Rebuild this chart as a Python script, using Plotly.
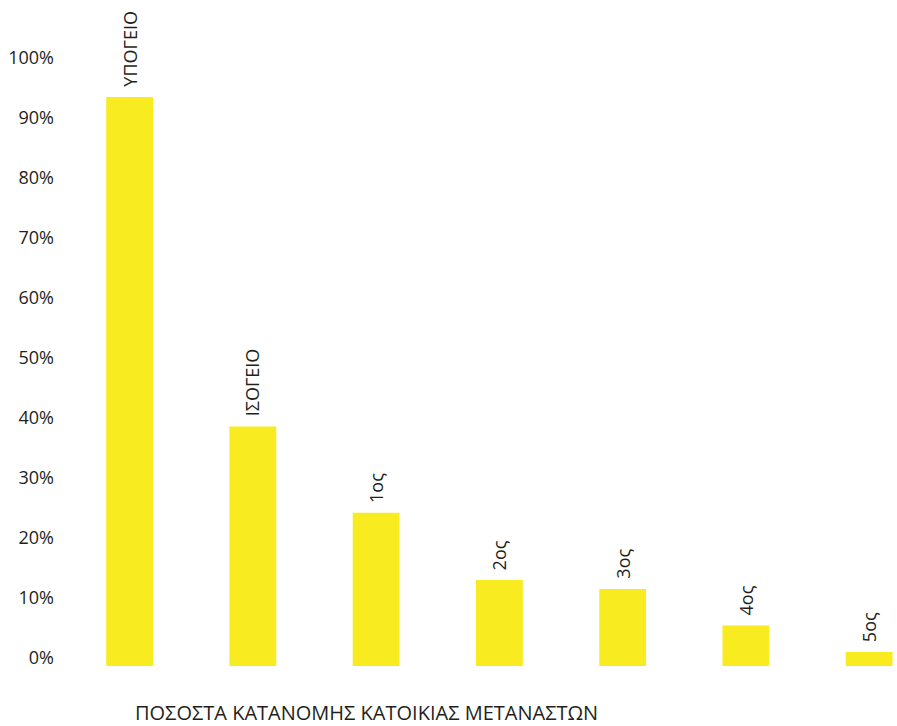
import plotly.graph_objects as go

categories = ["ΥΠΟΓΕΙΟ", "ΙΣΟΓΕΙΟ", "1ος", "2ος", "3ος", "4ος", "5ος"]
values = [93.5, 38.6, 24.2, 13.0, 11.5, 5.4, 1.0]
tick_vals = [0, 10, 20, 30, 40, 50, 60, 70, 80, 90, 100]
tick_text = ["0%", "10%", "20%", "30%", "40%", "50%", "60%", "70%", "80%", "90%", "100%"]
title_text = "ΠΟΣΟΣΤΑ ΚΑΤΑΝΟΜΗΣ ΚΑΤΟΙΚΙΑΣ ΜΕΤΑΝΑΣΤΩΝ"

BAR_COLOR = "#F8EC20"
TEXT_COLOR = "#231F20"
FONT = "Open Sans"
BASE = -1.33  # bars start slightly below the 0% label line, as in the original

fig = go.Figure()
fig.add_trace(go.Bar(
    x=categories,
    y=[v - BASE for v in values],
    base=BASE,
    width=0.38,
    marker=dict(color=BAR_COLOR, line=dict(width=0)),
    hoverinfo="skip",
))

for c, v in zip(categories, values):
    fig.add_annotation(
        x=c, y=v, xref="x", yref="y",
        text=c, showarrow=False, textangle=-90,
        xanchor="center", yanchor="bottom", yshift=8,
        font=dict(family=FONT, size=18, color=TEXT_COLOR),
    )

fig.add_annotation(
    x=(133 - 68) / (897 - 68), y=(670 - 712) / 670,
    xref="paper", yref="paper",
    text=title_text, showarrow=False,
    xanchor="left", yanchor="middle",
    font=dict(family=FONT, size=20, color=TEXT_COLOR),
)

fig.update_layout(
    width=897, height=726,
    margin=dict(l=68, r=0, t=0, b=56),
    plot_bgcolor="white", paper_bgcolor="white",
    showlegend=False,
    font=dict(family=FONT, size=17, color=TEXT_COLOR),
    xaxis=dict(
        range=[-0.5, 6.226], showticklabels=False, showgrid=False,
        zeroline=False, showline=False, ticks="",
    ),
    yaxis=dict(
        range=[-2, 109.67], tickvals=tick_vals, ticktext=tick_text,
        showgrid=False, zeroline=False, showline=False, ticks="",
        ticklabelstandoff=13,
        tickfont=dict(family=FONT, size=18, color=TEXT_COLOR),
    ),
)

fig.write_html("out.html")
